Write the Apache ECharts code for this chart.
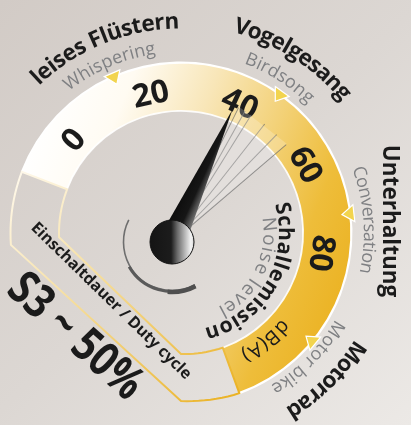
<!DOCTYPE html>
<html><head><meta charset="utf-8">
<script src="https://cdn.jsdelivr.net/npm/echarts@6/dist/echarts.min.js"></script>
<style>html,body{margin:0;padding:0;background:#ddd8d4;}#c{width:411px;height:425px;}</style>
</head><body><div id="c"></div>
<script>
// ---------------- data ----------------
const tickValues = [0, 20, 40, 60, 80];            // printed scale labels, dB(A)
const scaleMin = -20, scaleMax = 120, scaleSplits = 7;
const needleValue = [40];                          // needle reading
const sweepValues = [41, 42.5, 44, 47.4, 50.7, 53.6]; // motion "sweep" lines
const markerValues = [14, 46, 72, 97];             // reference noise levels
const categoryLabels = ['leises Flüstern', 'Vogelgesang', 'Unterhaltung', 'Motorrad'];
const categoryLabelsEn = ['Whispering', 'Birdsong', 'Conversation', 'Motor bike'];
const axisTitle = 'Schallemission', axisTitleEn = 'Noise level', unitLabel = 'dB(A)';
const dutyLabel = 'Einschaltdauer / Duty cycle', dutyValue = 'S3 ~ 50%';

// ---------------- layout ----------------
const C = [181, 233];           // arc centre
const P = [172, 242];           // needle pivot
const A0 = 175.95, A1 = -81.85; // angles of scaleMin / scaleMax
const R_OUT = 170.5, R_IN = 122;
const FONT = '"Open Sans", "Noto Sans", sans-serif';
const BOLD = '#1b1b1b', GREY = '#7f8083';

const mctx = document.createElement('canvas').getContext('2d');
function arcText(text, c, r, a0, a1, size, weight, color) {
  const font = weight + ' ' + size + 'px ' + FONT;
  mctx.font = font;
  const chars = Array.from(text);
  const ws = chars.map(ch => mctx.measureText(ch).width);
  let cum = 0;
  const mids = ws.map(w => { const m = cum + w / 2; cum += w; return m; });
  const span = mids[mids.length - 1] - mids[0];
  return chars.map((ch, i) => {
    if (ch === ' ') return null;
    const t = span ? (mids[i] - mids[0]) / span : 0.5;
    const a = (a0 + (a1 - a0) * t) * Math.PI / 180;
    return { type: 'text', x: c[0] + r * Math.cos(a), y: c[1] - r * Math.sin(a),
      rotation: a - Math.PI / 2, z: 10, silent: true,
      style: { text: ch, font: font, fill: color, align: 'center', verticalAlign: 'middle' } };
  }).filter(Boolean);
}
function pt(r, deg) { const a = deg * Math.PI / 180; return [C[0] + r * Math.cos(a), C[1] - r * Math.sin(a)]; }
function arcPts(r0, r1, d0, d1) {
  const n = Math.max(1, Math.ceil(Math.abs(d1 - d0) / 2)); const out = [];
  for (let i = 0; i <= n; i++) out.push(pt(r0 + (r1 - r0) * i / n, d0 + (d1 - d0) * i / n));
  return out;
}
const LG = echarts.graphic.LinearGradient;
const boxPts = [].concat(
  arcPts(R_OUT, R_OUT, 159, 184),
  arcPts(168, R_OUT, 270, 290),
  arcPts(R_IN, 121, 290, 270),
  arcPts(R_IN, R_IN, 182, 159)
);

const texts = [].concat(
  arcText(categoryLabels[0], C, 211, 133, 92.5, 22.5, 'bold', BOLD),
  arcText(categoryLabelsEn[0], C, 186, 125.7, 99.5, 18, 'normal', GREY),
  arcText(categoryLabels[1], C, 214, 73.5, 41, 22.5, 'bold', BOLD),
  arcText(categoryLabelsEn[1], C, 186, 67.8, 47, 18, 'normal', GREY),
  arcText(categoryLabelsEn[2], C, 188, 18.9, -10.8, 18, 'normal', GREY),
  arcText(categoryLabels[3], C, 210, -34.4, -57.3, 22.5, 'bold', BOLD),
  arcText(categoryLabelsEn[3], C, 182, -31.8, -58, 18, 'normal', GREY),
  arcText(axisTitle, C, 104, 13.6, -72.3, 21, 'bold', BOLD),
  arcText(axisTitleEn, C, 88, 5.6, -62, 19, 'normal', GREY),
  arcText(unitLabel, C, 138, -43, -62, 20, 'normal', BOLD)
);
texts.push({ type: 'text', x: 389, y: 221, rotation: -Math.PI / 2, z: 10, silent: true,
  style: { text: categoryLabels[2], font: 'bold 22.5px ' + FONT, fill: BOLD, align: 'center', verticalAlign: 'middle' } });
texts.push({ type: 'text', x: 111, y: 301, rotation: -44.3 * Math.PI / 180, z: 10, silent: true,
  style: { text: dutyLabel, font: 'bold 16px ' + FONT, fill: BOLD, align: 'center', verticalAlign: 'middle' } });
texts.push({ type: 'text', x: 75, y: 337, rotation: -42 * Math.PI / 180, scaleX: 0.82, z: 10, silent: true,
  style: { text: dutyValue, font: 'bold 47px ' + FONT, fill: BOLD, align: 'center', verticalAlign: 'middle' } });

// grey arc under the pivot (screen angles, clockwise), thin at upper-left, thicker at lower-right
const D = Math.PI / 180;
const pivotArcs = [
  { type: 'arc', z: 5, silent: true, shape: { cx: P[0], cy: P[1], r: 48.5, startAngle: 62 * D, endAngle: 207 * D, clockwise: true },
    style: { fill: 'none', stroke: '#6e6e6e', lineWidth: 1.6 } },
  { type: 'arc', z: 5, silent: true, shape: { cx: P[0], cy: P[1], r: 49.5, startAngle: 62 * D, endAngle: 150 * D, clockwise: true },
    style: { fill: 'none', stroke: '#5a5a5a', lineWidth: 3 } },
  { type: 'arc', z: 5, silent: true, shape: { cx: P[0], cy: P[1], r: 50, startAngle: 62 * D, endAngle: 95 * D, clockwise: true },
    style: { fill: 'none', stroke: '#4f4f4f', lineWidth: 4.5 } }
];

const boxGrad = new LG(0, 0, 1, 1, [
  { offset: 0, color: '#fffaf0' }, { offset: 0.4, color: '#f6dfa0' }, { offset: 1, color: '#eab01e' }]);

const hidden = { axisLine: { show: false }, splitLine: { show: false, length: 0, distance: 0 },
  axisTick: { show: false }, axisLabel: { show: false }, title: { show: false }, detail: { show: false } };

const bandGrad = new LG(0, 0.3, 1, 0.7, [
  { offset: 0, color: '#ffffff' }, { offset: 0.2, color: '#fffbf2' }, { offset: 0.42, color: '#f8e6b8' },
  { offset: 0.62, color: '#f3d27a' }, { offset: 0.82, color: '#eebd3a' }, { offset: 1, color: '#ebb222' }]);

const option = {
  animation: false,
  backgroundColor: new LG(0, 0, 1, 1, [
    { offset: 0, color: '#d2cbc6' }, { offset: 0.5, color: '#dcd7d3' }, { offset: 1, color: '#ece9e6' }]),
  graphic: { elements: [
    { type: 'polygon', z: 3, silent: true, shape: { points: boxPts },
      style: { fill: 'none', stroke: boxGrad, lineWidth: 2 } }
  ].concat(pivotArcs, texts) },
  series: [
    // coloured band
    Object.assign({}, hidden, { type: 'gauge', z: 2, center: C, radius: R_OUT, startAngle: 159, endAngle: -70,
      min: 0, max: 1, pointer: { show: false }, anchor: { show: false }, data: [],
      axisLine: { show: true, lineStyle: { width: R_OUT - R_IN, color: [[1, bandGrad]] } } }),
    // white edges
    Object.assign({}, hidden, { type: 'gauge', z: 2, center: C, radius: R_OUT + 1, startAngle: 159, endAngle: -70,
      pointer: { show: false }, anchor: { show: false }, data: [],
      axisLine: { show: true, lineStyle: { width: 2.2, color: [[1, '#ffffff']] } } }),
    Object.assign({}, hidden, { type: 'gauge', z: 2, center: C, radius: R_IN + 1, startAngle: 159, endAngle: -70,
      pointer: { show: false }, anchor: { show: false }, data: [],
      axisLine: { show: true, lineStyle: { width: 1.8, color: [[1, 'rgba(255,255,255,0.9)']] } } }),
    // scale labels
    Object.assign({}, hidden, { type: 'gauge', z: 4, center: C, radius: R_OUT, startAngle: A0, endAngle: A1,
      min: scaleMin, max: scaleMax, splitNumber: scaleSplits, pointer: { show: false }, anchor: { show: false }, data: [],
      axisLabel: { show: true, distance: 29.5, rotate: 'tangential', color: BOLD, fontSize: 32, fontWeight: 'bold',
        fontFamily: FONT, formatter: v => tickValues.indexOf(Math.round(v)) >= 0 ? String(Math.round(v)) : '' } }),
    // reference markers
    Object.assign({}, hidden, { type: 'gauge', z: 5, center: C, radius: R_OUT, startAngle: A0, endAngle: A1,
      min: scaleMin, max: scaleMax, anchor: { show: false },
      pointer: { show: true, icon: 'path://M0,0 L20,0 L10,17 Z', width: 17, length: 12, offsetCenter: [0, -162],
        itemStyle: { color: '#f2d44e', borderColor: '#ffffff', borderWidth: 1.2 } },
      data: markerValues.map(v => ({ value: v })) }),
    // sweep lines
    Object.assign({}, hidden, { type: 'gauge', z: 6, center: P, radius: 150, startAngle: A0, endAngle: A1,
      min: scaleMin, max: scaleMax, anchor: { show: false },
      pointer: { show: true, icon: 'rect', width: 1, length: 150, offsetCenter: [0, 0],
        itemStyle: { color: 'rgba(105,105,105,0.7)' } },
      data: sweepValues.map(v => ({ value: v })) }),
    Object.assign({}, hidden, { type: 'gauge', z: 6, center: P, radius: 150, startAngle: A0, endAngle: A1,
      min: scaleMin, max: scaleMax, anchor: { show: false },
      pointer: { show: true, icon: 'path://M0,0 L20,0 L10,100 Z', width: 60, length: 148, offsetCenter: [0, 0],
        itemStyle: { color: 'rgba(255,255,255,0.22)' } },
      data: [{ value: (sweepValues[0] + sweepValues[sweepValues.length - 1]) / 2 }] }),
    // needle
    Object.assign({}, hidden, { type: 'gauge', z: 8, center: P, radius: 150, startAngle: A0, endAngle: A1,
      min: scaleMin, max: scaleMax,
      pointer: { show: true, icon: 'path://M10,0 L20,100 L0,100 Z', width: 27, length: 146, offsetCenter: [0, 0],
        itemStyle: { color: new LG(0, 0, 1, 0, [
          { offset: 0, color: '#0c0c0c' }, { offset: 0.55, color: '#161616' }, { offset: 1, color: '#8c8c8c' }]) } },
      anchor: { show: true, showAbove: true, size: 44, icon: 'circle', offsetCenter: [0, 0],
        itemStyle: { color: new LG(0, 0, 1, 0, [
          { offset: 0, color: '#141414' }, { offset: 0.48, color: '#1c1c1c' }, { offset: 0.62, color: '#6a6a6a' },
          { offset: 0.92, color: '#f4f4f4' }, { offset: 1, color: '#d0d0d0' }]), borderColor: '#111', borderWidth: 1 } },
      data: needleValue.map(v => ({ value: v })) })
  ]
};
const chart = echarts.init(document.getElementById('c'));
chart.setOption(option);
</script></body></html>
